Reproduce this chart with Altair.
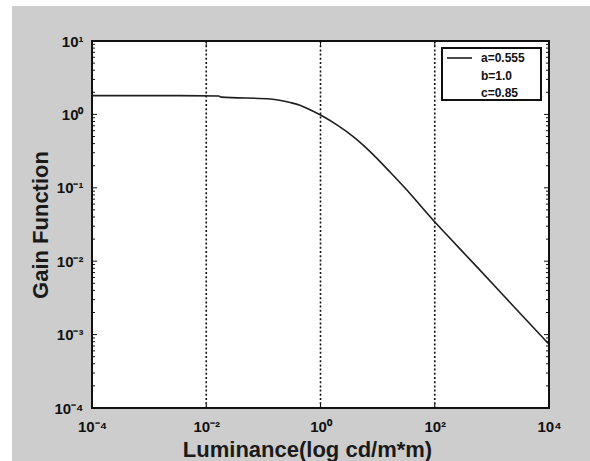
import altair as alt
import pandas as pd

# ---- data ----
luminance = [1e-4, 1e-3, 3.47e-3, 0.0166, 0.0182, 0.132, 0.295, 0.437, 0.575, 1.0, 2.0,
             3.98, 7.94, 15.8, 31.6, 55.0, 107.0, 162.0, 537.0, 3548.0, 1e4]
gain = [1.80, 1.80, 1.80, 1.78, 1.72, 1.62, 1.45, 1.33, 1.21, 0.98, 0.708,
        0.479, 0.295, 0.170, 0.0955, 0.0583, 0.0324, 0.0229, 0.0085, 0.00175, 0.00074]

x_exponents = [-4, -2, 0, 2, 4]
y_exponents = [-4, -3, -2, -1, 0, 1]
x_ticks = [10.0 ** e for e in x_exponents]
y_ticks = [10.0 ** e for e in y_exponents]
grid_x = [1e-2, 1.0, 1e2]
minor_mult = [2, 3, 4, 5, 6, 7, 8, 9]
y_minor = [m * 10.0 ** e for e in y_exponents[:-1] for m in minor_mult]
legend_labels = ["a=0.555", "b=1.0", "c=0.85"]

x_title = "Luminance(log cd/m*m)"
y_title = "Gain Function"

# ---- layout ----
W, H = 457, 367
FONT = "Liberation Sans"
INK = "#111111"
SUP = {"-": "\u207b", "0": "\u2070", "1": "\u00b9", "2": "\u00b2", "3": "\u00b3", "4": "\u2074"}


def sup_label(e):
    return "10" + "".join(SUP[c] for c in str(e))


def label_expr(exps):
    parts = [f"round(log(datum.value)/LN10) == {e} ? '{sup_label(e)}'" for e in exps]
    return " : ".join(parts) + " : ''"


xs = alt.Scale(type="log", domain=[1e-4, 1e4], nice=False)
ys = alt.Scale(type="log", domain=[1e-4, 1e1], nice=False)

x_axis = alt.Axis(values=x_ticks, labelExpr=label_expr(x_exponents), domain=False, ticks=False,
                  grid=False, zindex=2, labelFont=FONT, labelFontSize=15, labelFontWeight="bold",
                  labelColor=INK, labelPadding=11, labelFlush=False, labelOverlap=False,
                  title=x_title, titleFont=FONT, titleFontSize=22, titleFontWeight="bold",
                  titleColor="#1a1a1a", titleX=215, titleY=48, titleAlign="center",
                  titleBaseline="alphabetic")
y_axis = alt.Axis(values=y_ticks, labelExpr=label_expr(y_exponents), domain=False, ticks=False,
                  grid=False, zindex=2, labelFont=FONT, labelFontSize=15, labelFontWeight="bold",
                  labelColor=INK, labelPadding=9, labelFlush=False, labelOverlap=False,
                  title=y_title, titleFont=FONT, titleFontSize=22, titleFontWeight="bold",
                  titleColor="#1a1a1a", titleX=-45, titleY=H / 2, titleAlign="center",
                  titleAngle=270, titleBaseline="alphabetic")

X = alt.X("x:Q", scale=xs, axis=x_axis)
Y = alt.Y("y:Q", scale=ys, axis=y_axis)

one = alt.Data(values=[{}])

bg = alt.Chart(one).mark_rect(color="#cdcdcd").encode(
    x=alt.value(-80), x2=alt.value(498), y=alt.value(-35), y2=alt.value(425))
plot_bg = alt.Chart(one).mark_rect(color="white").encode(
    x=alt.value(0), x2=alt.value(W), y=alt.value(0), y2=alt.value(H))

curve_df = pd.DataFrame({"x": luminance, "y": gain})
curve = alt.Chart(curve_df).mark_line(color="#1e1e1e", strokeWidth=1.6,
                                      interpolate="monotone").encode(x=X, y=Y)

grid_df = pd.DataFrame({"x": grid_x})
grid = alt.Chart(grid_df).mark_rule(color="#111111", strokeWidth=1.6,
                                    strokeDash=[2, 2.2]).encode(x=X)

xt_df = pd.DataFrame({"x": x_ticks})
yt_df = pd.DataFrame({"y": y_ticks})
ym_df = pd.DataFrame({"y": y_minor})
tick_style = dict(color="#111111", strokeWidth=1)
ticks = [
    alt.Chart(xt_df).mark_rule(**tick_style).encode(x=X, y=alt.value(H - 5), y2=alt.value(H)),
    alt.Chart(xt_df).mark_rule(**tick_style).encode(x=X, y=alt.value(0), y2=alt.value(5)),
    alt.Chart(yt_df).mark_rule(**tick_style).encode(y=Y, x=alt.value(0), x2=alt.value(5)),
    alt.Chart(yt_df).mark_rule(**tick_style).encode(y=Y, x=alt.value(W - 5), x2=alt.value(W)),
    alt.Chart(ym_df).mark_rule(**tick_style).encode(y=Y, x=alt.value(0), x2=alt.value(3)),
    alt.Chart(ym_df).mark_rule(**tick_style).encode(y=Y, x=alt.value(W - 3), x2=alt.value(W)),
]

frame = alt.Chart(one).mark_rect(filled=False, stroke="#111111", strokeWidth=2).encode(
    x=alt.value(0), x2=alt.value(W), y=alt.value(0), y2=alt.value(H))

# legend box
leg_box = alt.Chart(one).mark_rect(fill="white", stroke="#111111", strokeWidth=2).encode(
    x=alt.value(350), x2=alt.value(449), y=alt.value(7), y2=alt.value(59))
leg_line = alt.Chart(one).mark_rule(color="#1e1e1e", strokeWidth=1.6).encode(
    x=alt.value(355), x2=alt.value(380), y=alt.value(17))
leg_texts = []
for i, lab in enumerate(legend_labels):
    leg_texts.append(
        alt.Chart(one).mark_text(text=lab, font=FONT, fontSize=12, fontWeight="bold",
                                 color=INK, align="left", baseline="middle").encode(
            x=alt.value(389), y=alt.value(17 + i * 17.5)))

chart = alt.layer(bg, plot_bg, grid, curve, *ticks, frame, leg_box, leg_line, *leg_texts).properties(
    width=W, height=H,
    autosize=alt.AutoSizeParams(type="none"),
    padding={"left": 92, "top": 41, "right": 41, "bottom": 53},
).configure_view(stroke=None).configure(background="white")

chart.save("out.html", embed_options={"renderer": "svg", "actions": False})
